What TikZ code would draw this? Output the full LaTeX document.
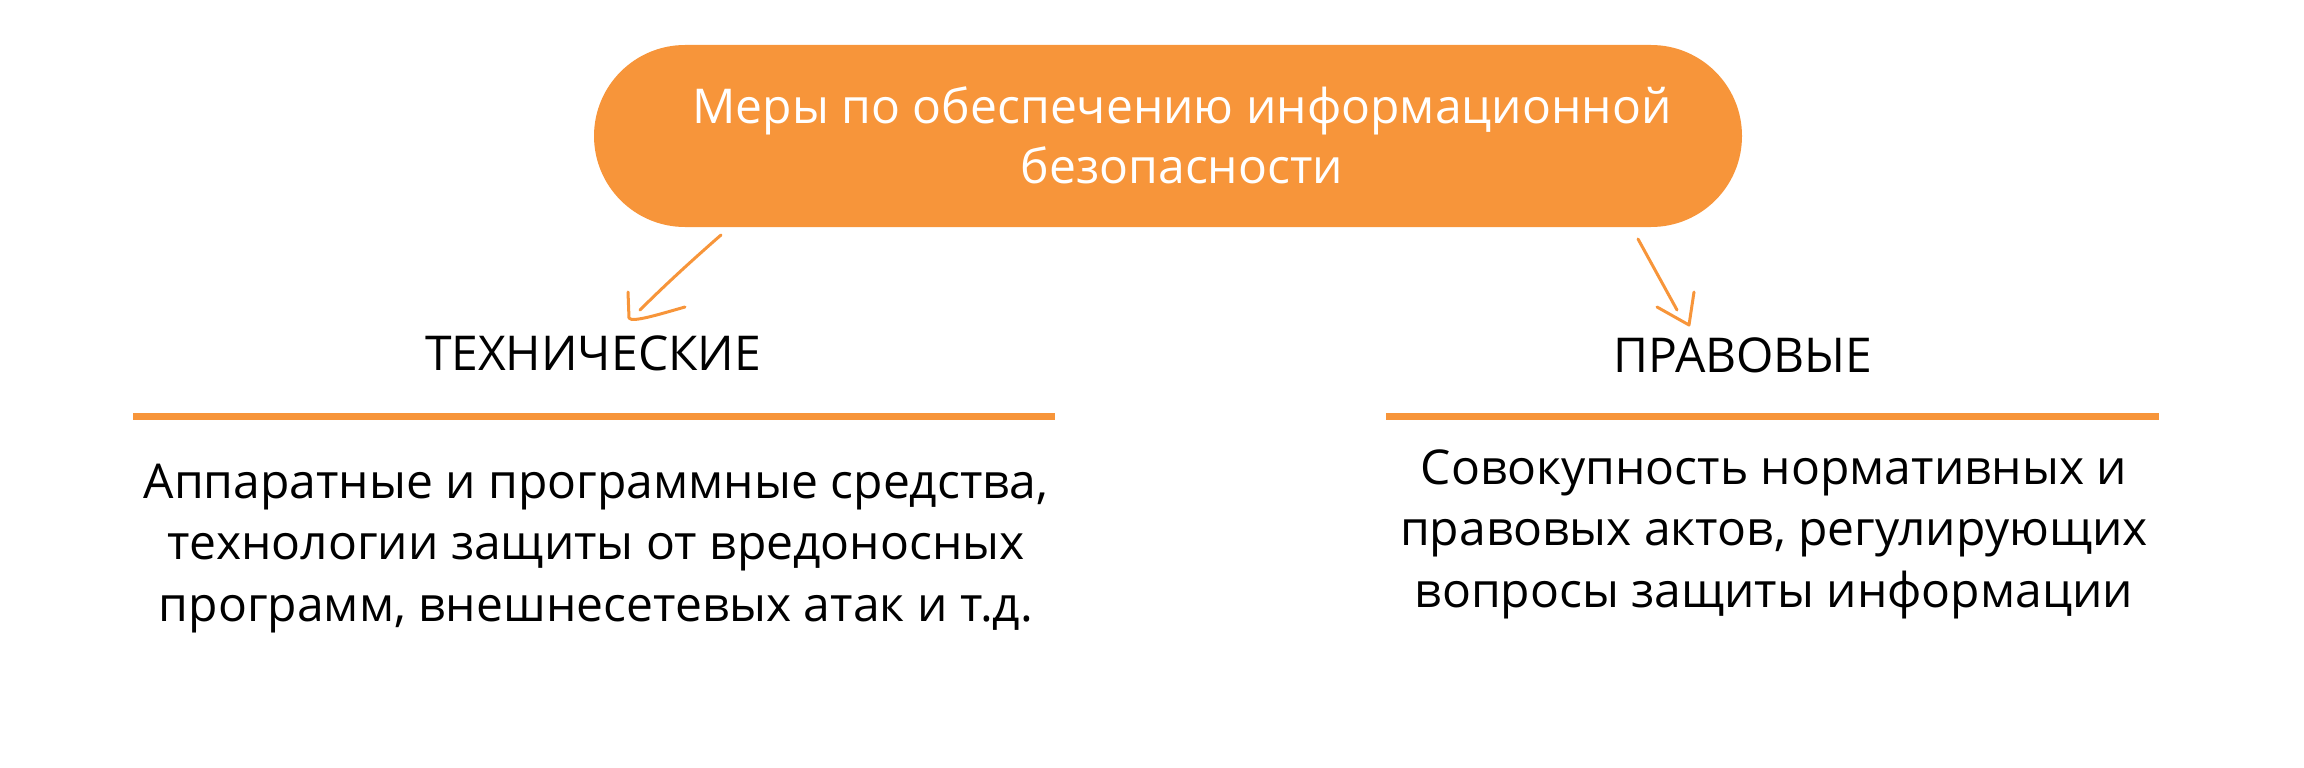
\documentclass[tikz,border=0pt]{standalone}
\usepackage{fontspec}
\setmainfont{Open Sans}
\definecolor{measorange}{HTML}{F7953A}

\begin{document}
\begin{tikzpicture}
[
x=1pt,y=-1pt,
pill/.style={fill=measorange,rounded corners=91pt,minimum width=1148pt,minimum height=182pt,inner sep=0pt},
pilltext/.style={text=white,align=center,font=\fontsize{48}{60}\selectfont},
heading/.style={anchor=base,font=\fontsize{48}{61.5}\selectfont},
bodytext/.style={align=center,font=\fontsize{48}{61.5}\selectfont},
rule/.style={measorange,line width=7pt},
sketch/.style={measorange,line width=3pt,line cap=round,line join=round},
]
\useasboundingbox (0,0) rectangle (2304,768);

\node[pill] (meas) at (1168,136) {};
\node[pilltext] (meastxt) at (1182,135) {Меры по обеспечению информационной\\безопасности};

\node[heading] (tech) at (593,370) {ТЕХНИЧЕСКИЕ};
\node[heading] (law) at (1743,372) {ПРАВОВЫЕ};

\coordinate (techl) at (133,416);
\coordinate (techr) at (1055,416);
\coordinate (lawl) at (1386,416);
\coordinate (lawr) at (2159,416);
\draw[rule] (techl) -- (techr);
\draw[rule] (lawl) -- (lawr);

\node[bodytext] (techtxt) at (596,548.5) {Аппаратные и программные средства,\\технологии защиты от вредоносных\\программ, внешнесетевых атак и т.д.};
\node[bodytext] (lawtxt) at (1774,534) {Совокупность нормативных и\\правовых актов, регулирующих\\вопросы защиты информации};

\coordinate (techfrom) at (721,235);
\coordinate (techto) at (640,310);
\coordinate (techtip) at (629,318);
\coordinate (lawfrom) at (1638,239);
\coordinate (lawto) at (1677,310);
\coordinate (lawtip) at (1689,325);
\draw[sketch] (techfrom) .. controls (690,262) and (662,288) .. (techto);
\draw[sketch] (628,292) -- (techtip) .. controls (632,323) and (660,314) .. (685,307);
\draw[sketch] (lawfrom) -- (lawto);
\draw[sketch] (1657,307) -- (lawtip) -- (1694,292);

\end{tikzpicture}
\end{document}
